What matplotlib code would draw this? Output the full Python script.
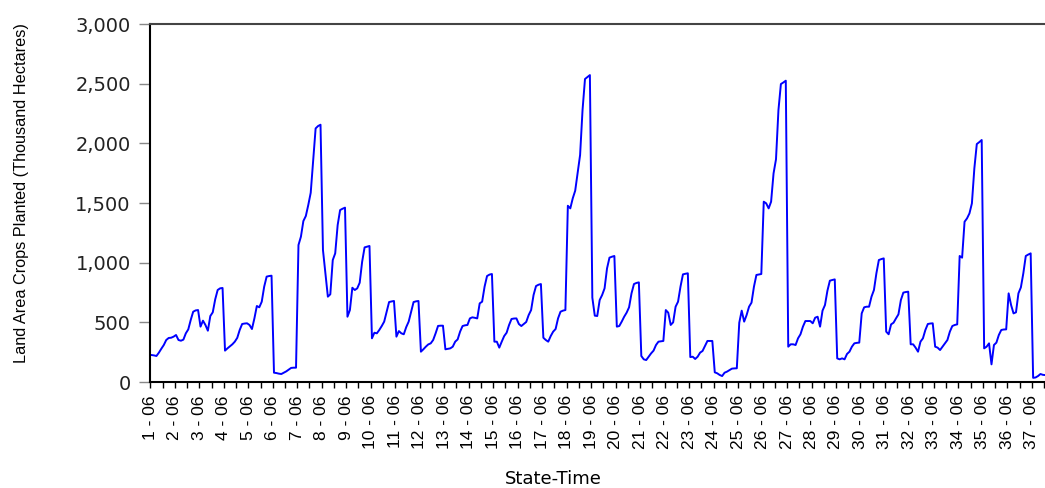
import numpy as np
import matplotlib
matplotlib.use("Agg")
import matplotlib.pyplot as plt
from matplotlib.ticker import FixedLocator, FuncFormatter

# land area crops planted, 10 yearly obs per state (2006 onward)
states_01_10 = [
    [226, 223, 218, 246, 279, 310, 352, 369, 371, 380],
    [394, 352, 346, 355, 408, 441, 520, 589, 600, 603],
    [464, 514, 478, 430, 553, 584, 693, 771, 785, 788],
    [263, 282, 299, 316, 338, 370, 436, 486, 490, 492],
    [478, 444, 533, 637, 626, 673, 799, 883, 888, 891],
    [78, 75, 70, 67, 78, 89, 103, 118, 120, 120],
    [1148, 1218, 1349, 1391, 1483, 1586, 1860, 2125, 2145, 2156],
    [1106, 910, 715, 735, 1022, 1078, 1315, 1441, 1452, 1461],
    [547, 603, 790, 771, 785, 832, 1008, 1128, 1134, 1140],
    [366, 413, 408, 436, 469, 506, 589, 670, 675, 679],
]
states_11_20 = [
    [380, 427, 408, 400, 460, 506, 589, 670, 676, 679],
    [254, 274, 296, 315, 324, 352, 408, 470, 472, 472],
    [274, 278, 282, 296, 338, 357, 422, 469, 475, 478],
    [533, 542, 538, 533, 659, 673, 799, 888, 900, 905],
    [338, 338, 288, 338, 385, 413, 478, 528, 532, 533],
    [486, 469, 486, 503, 561, 603, 729, 804, 815, 821],
    [371, 352, 338, 385, 422, 444, 533, 589, 598, 603],
    [1477, 1455, 1539, 1603, 1754, 1902, 2279, 2539, 2555, 2572],
    [707, 556, 553, 687, 729, 785, 952, 1042, 1050, 1056],
    [464, 469, 506, 547, 581, 626, 743, 821, 830, 835],
]
states_21_30 = [
    [218, 190, 184, 212, 240, 263, 310, 338, 341, 344],
    [603, 581, 478, 500, 631, 673, 799, 902, 907, 911],
    [209, 212, 193, 212, 246, 260, 302, 344, 344, 344],
    [81, 73, 59, 50, 78, 87, 100, 112, 114, 115],
    [497, 598, 506, 561, 631, 665, 799, 897, 901, 905],
    [1511, 1497, 1455, 1511, 1748, 1866, 2279, 2497, 2510, 2525],
    [296, 316, 316, 310, 366, 400, 464, 511, 511, 511],
    [492, 539, 547, 464, 598, 645, 765, 849, 855, 860],
    [198, 190, 198, 190, 235, 254, 296, 324, 328, 330],
    [575, 626, 631, 631, 715, 771, 911, 1022, 1030, 1036],
]
states_31_37 = [
    [422, 400, 483, 497, 533, 567, 687, 749, 754, 757],
    [316, 316, 288, 254, 338, 366, 436, 486, 490, 492],
    [296, 288, 268, 296, 324, 352, 422, 469, 478, 483],
    [1056, 1042, 1343, 1371, 1413, 1497, 1790, 1994, 2010, 2028],
    [282, 296, 324, 148, 310, 330, 394, 436, 440, 441],
    [743, 645, 575, 584, 743, 793, 911, 1056, 1068, 1078],
    [35, 38, 50, 67, 60, 58],  # rest is cut off in the picture
]

years_per_state = 10
state_ids = list(range(1, 38))
tick_labels = [f"{s} - 06" for s in state_ids]

# stack everything into one long panel series
area = np.concatenate([np.array(v, dtype=float)
                       for v in states_01_10 + states_11_20 + states_21_30 + states_31_37])
obs = np.arange(len(area))

fig = plt.figure(figsize=(10.45, 4.88), dpi=100)
ax = fig.add_axes([0.1438, 0.2172, 0.8562, 0.7336])

ax.plot(obs, area, color="#0000FF", lw=1.4)

ax.set_xlim(-0.52, 364.85)
ax.set_ylim(0, 3000)

# x axis: label on every state, minor tick half way
major = [years_per_state * i - 0.5 for i in range(len(state_ids))]
minor = [m + years_per_state / 2 for m in major]
ax.xaxis.set_major_locator(FixedLocator(major))
ax.xaxis.set_minor_locator(FixedLocator(minor))
ax.set_xticklabels(tick_labels, rotation=90, fontsize=12.5, family=["Liberation Sans", "DejaVu Sans"])
ax.tick_params(axis="x", which="both", direction="out", length=4.5, width=1.0, color="black", pad=5)

ax.yaxis.set_major_locator(FixedLocator(np.arange(0, 3001, 500)))
ax.yaxis.set_major_formatter(FuncFormatter(lambda v, p: f"{int(v):,}"))
ax.tick_params(axis="y", direction="out", length=8, width=1.0, color="#888888", pad=6, labelsize=14)
for t in ax.get_yticklabels():
    t.set_family("DejaVu Sans")
    t.set_color("#222222")

ax.spines["right"].set_visible(False)
ax.spines["left"].set_linewidth(1.5)
ax.spines["bottom"].set_linewidth(1.5)
ax.spines["top"].set_linewidth(1.5)
ax.spines["top"].set_color("#444444")

ax.set_xlabel("State-Time", fontsize=13, family="DejaVu Sans")
ax.xaxis.set_label_coords(0.451, -0.2947)
ax.xaxis.label.set_va("bottom")

ax.set_ylabel("Land Area Crops Planted (Thousand Hectares)", fontsize=11.7,
              family="Liberation Sans")
ax.yaxis.set_label_coords(-0.1434, 0.529)
ax.yaxis.label.set_va("center")

fig.savefig("out.png", dpi=100)
